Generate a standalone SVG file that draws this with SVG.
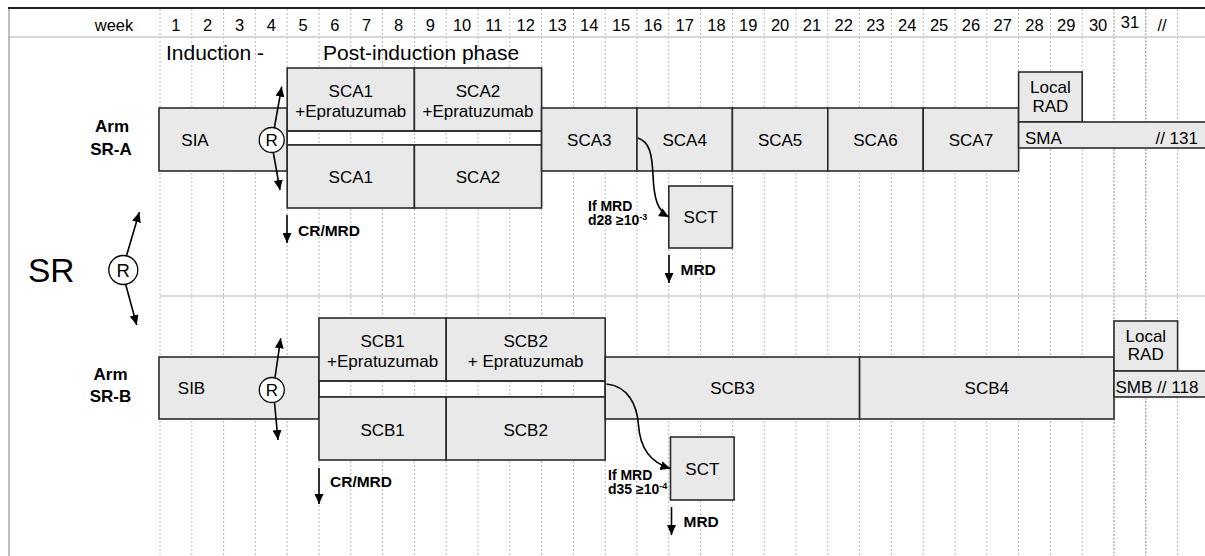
<svg xmlns="http://www.w3.org/2000/svg" width="1205" height="556" viewBox="0 0 1205 556">
<defs>
<style>
text{font-family:"Liberation Sans",Arial,sans-serif;fill:#000}
.hd{font-size:16.5px;text-anchor:middle}
.ph{font-size:21px}
.bx{font-size:17px;text-anchor:middle}
.lb{font-size:17px}
.arm{font-size:17px;font-weight:bold;text-anchor:middle}
.nt{font-size:15.5px;font-weight:bold}
.sm{font-size:14px;font-weight:bold}
.sup{font-size:9px}
.box{fill:#e9e9e9;stroke:#2b2b2b;stroke-width:1.6}
.gap{fill:#fff;fill-opacity:0;stroke:#2b2b2b;stroke-width:1.6}
.grid{stroke:#b8b8b8;stroke-width:1;stroke-dasharray:2 2;fill:none}
.grid2{stroke:#8a8a8a;stroke-width:1;stroke-dasharray:2 1.5;fill:none}
.circ{fill:#fff;stroke:#000;stroke-width:1.3}
.arr{stroke:#000;stroke-width:1.6;fill:none;marker-end:url(#ah)}
</style>
<marker id="ah" viewBox="0 0 10 9" refX="10" refY="4.5" markerWidth="10" markerHeight="9" markerUnits="userSpaceOnUse" orient="auto">
<path d="M0,0 L10,4.5 L0,9 z" fill="#000"/>
</marker>
</defs>
<rect width="1205" height="556" fill="#fff"/>

<g id="frame">
<path class="grid" d="M160,9V556M191.8,9V556M223.6,9V556M255.4,9V556M287.2,9V556M319,9V556M350.8,9V556M382.6,9V556M414.4,9V556M446.2,9V556M478,9V556M509.8,9V556M541.6,9V556M573.4,9V556M605.2,9V556M637,9V556M668.8,9V556M700.6,9V556M732.4,9V556M764.2,9V556M796,9V556M827.8,9V556M859.6,9V556M891.4,9V556M923.2,9V556M955,9V556M986.8,9V556M1018.6,9V556M1050.4,9V556M1082.2,9V556M1177.6,9V556"/>
<path class="grid2" d="M1114,9V556M1145.8,9V556"/>
<line x1="8" y1="37" x2="1205" y2="37" stroke="#c8c8c8" stroke-width="1.6"/>
<line x1="160" y1="296" x2="1205" y2="296" stroke="#d0d0d0" stroke-width="1.6"/>
<line x1="9" y1="8" x2="9" y2="556" stroke="#a8a8a8" stroke-width="1.5"/>
<line x1="8" y1="8" x2="1205" y2="8" stroke="#222" stroke-width="2"/>
</g>

<g id="header">
<text class="hd" x="114" y="30.5">week</text>
<text class="hd" x="175.9" y="30.5">1</text>
<text class="hd" x="207.7" y="30.5">2</text>
<text class="hd" x="239.5" y="30.5">3</text>
<text class="hd" x="271.3" y="30.5">4</text>
<text class="hd" x="303.1" y="30.5">5</text>
<text class="hd" x="334.9" y="30.5">6</text>
<text class="hd" x="366.7" y="30.5">7</text>
<text class="hd" x="398.5" y="30.5">8</text>
<text class="hd" x="430.3" y="30.5">9</text>
<text class="hd" x="462.1" y="30.5">10</text>
<text class="hd" x="493.9" y="30.5">11</text>
<text class="hd" x="525.7" y="30.5">12</text>
<text class="hd" x="557.5" y="30.5">13</text>
<text class="hd" x="589.3" y="30.5">14</text>
<text class="hd" x="621.1" y="30.5">15</text>
<text class="hd" x="652.9" y="30.5">16</text>
<text class="hd" x="684.7" y="30.5">17</text>
<text class="hd" x="716.5" y="30.5">18</text>
<text class="hd" x="748.3" y="30.5">19</text>
<text class="hd" x="780.1" y="30.5">20</text>
<text class="hd" x="811.9" y="30.5">21</text>
<text class="hd" x="843.7" y="30.5">22</text>
<text class="hd" x="875.5" y="30.5">23</text>
<text class="hd" x="907.3" y="30.5">24</text>
<text class="hd" x="939.1" y="30.5">25</text>
<text class="hd" x="970.9" y="30.5">26</text>
<text class="hd" x="1002.7" y="30.5">27</text>
<text class="hd" x="1034.5" y="30.5">28</text>
<text class="hd" x="1066.3" y="30.5">29</text>
<text class="hd" x="1098.1" y="30.5">30</text>
<text class="hd" x="1129.9" y="28">31</text>
<text class="hd" x="1162" y="30.5">//</text>
<text class="ph" x="166" y="60">Induction -</text>
<text class="ph" x="323" y="60">Post-induction phase</text>
</g>

<g id="sr">
<text x="28" y="281.5" style="font-size:33.5px">SR</text>
<circle class="circ" cx="123.3" cy="270" r="14.5"/>
<text x="123.3" y="276.6" style="font-size:18.5px;text-anchor:middle">R</text>
</g>

<g id="arm-a-label"><text class="arm" x="112" y="132">Arm</text><text class="arm" x="111" y="155">SR-A</text></g>
<g id="sia"><rect class="box" x="159" y="108" width="128.2" height="63"/><text class="bx" x="195" y="146">SIA</text></g>
<g id="sca1e"><rect class="box" x="287.2" y="68" width="127.2" height="63"/><text class="bx" x="350.8" y="97">SCA1</text><text class="bx" x="350.8" y="117">+Epratuzumab</text></g>
<g id="sca2e"><rect class="box" x="414.4" y="68" width="127.2" height="63"/><text class="bx" x="478" y="97">SCA2</text><text class="bx" x="478" y="117">+Epratuzumab</text></g>
<g id="gap-a"><rect class="gap" x="287.2" y="131" width="254.4" height="14"/></g>
<g id="sca1"><rect class="box" x="287.2" y="145" width="127.2" height="63"/><text class="bx" x="350.8" y="182.5">SCA1</text></g>
<g id="sca2"><rect class="box" x="414.4" y="145" width="127.2" height="63"/><text class="bx" x="478" y="182.5">SCA2</text></g>
<g id="sca3"><rect class="box" x="541.6" y="108" width="95.4" height="63"/><text class="bx" x="589.3" y="146">SCA3</text></g>
<g id="sca4"><rect class="box" x="637" y="108" width="95.4" height="63"/><text class="bx" x="684.7" y="146">SCA4</text></g>
<g id="sca5"><rect class="box" x="732.4" y="108" width="95.4" height="63"/><text class="bx" x="780.1" y="146">SCA5</text></g>
<g id="sca6"><rect class="box" x="827.8" y="108" width="95.4" height="63"/><text class="bx" x="875.5" y="146">SCA6</text></g>
<g id="sca7"><rect class="box" x="923.2" y="108" width="95.4" height="63"/><text class="bx" x="970.9" y="146">SCA7</text></g>
<g id="rad-a"><rect class="box" x="1018.6" y="72" width="63.6" height="50"/><text class="bx" x="1050.4" y="93.3">Local</text><text class="bx" x="1050.4" y="111.7">RAD</text></g>
<g id="sma"><rect class="box" x="1018.6" y="122" width="192" height="26"/><text class="lb" x="1025" y="144">SMA</text><text class="lb" x="1198" y="144" style="text-anchor:end">// 131</text></g>
<g id="sct-a"><rect class="box" x="668.8" y="186" width="63.6" height="62"/><text class="bx" x="700.6" y="223">SCT</text></g>
<g id="r-a"><circle class="circ" cx="271.7" cy="140" r="12.5"/><text x="271.7" y="146" style="font-size:17px;text-anchor:middle">R</text></g>
<g id="notes-a">
<text class="nt" x="298" y="235.5">CR/MRD</text>
<text class="sm" x="588" y="211">If MRD</text>
<text class="sm" x="588" y="225">d28 ≥10<tspan class="sup" dy="-5">-3</tspan></text>
<text class="nt" x="680.5" y="275">MRD</text>
</g>

<g id="arm-b-label"><text class="arm" x="110.5" y="380">Arm</text><text class="arm" x="110.5" y="402">SR-B</text></g>
<g id="sib"><rect class="box" x="159" y="357" width="160" height="62"/><text class="bx" x="191.5" y="393.5">SIB</text></g>
<g id="scb1e"><rect class="box" x="319" y="318" width="127.2" height="63"/><text class="bx" x="382.6" y="347">SCB1</text><text class="bx" x="382.6" y="367">+Epratuzumab</text></g>
<g id="scb2e"><rect class="box" x="446.2" y="318" width="159" height="63"/><text class="bx" x="525.7" y="347">SCB2</text><text class="bx" x="525.7" y="367">+ Epratuzumab</text></g>
<g id="gap-b"><rect class="gap" x="319" y="381" width="286.2" height="16"/></g>
<g id="scb1"><rect class="box" x="319" y="397" width="127.2" height="63"/><text class="bx" x="382.6" y="436">SCB1</text></g>
<g id="scb2"><rect class="box" x="446.2" y="397" width="159" height="63"/><text class="bx" x="525.7" y="436">SCB2</text></g>
<g id="scb3"><rect class="box" x="605.2" y="357" width="254.4" height="62"/><text class="bx" x="732.4" y="394">SCB3</text></g>
<g id="scb4"><rect class="box" x="859.6" y="357" width="254.4" height="62"/><text class="bx" x="986.8" y="394">SCB4</text></g>
<g id="rad-b"><rect class="box" x="1114" y="321" width="63.6" height="50"/><text class="bx" x="1145.8" y="341.7">Local</text><text class="bx" x="1145.8" y="359.5">RAD</text></g>
<g id="smb"><rect class="box" x="1114" y="371" width="96" height="26"/><text class="lb" x="1115.5" y="392.5">SMB // 118</text></g>
<g id="sct-b"><rect class="box" x="670.5" y="437" width="63.6" height="63"/><text class="bx" x="702.3" y="474.5">SCT</text></g>
<g id="r-b"><circle class="circ" cx="271.8" cy="390" r="12.5"/><text x="271.8" y="396" style="font-size:17px;text-anchor:middle">R</text></g>
<g id="notes-b">
<text class="nt" x="330" y="487">CR/MRD</text>
<text class="sm" x="608" y="480">If MRD</text>
<text class="sm" x="608" y="494">d35 ≥10<tspan class="sup" dy="-5">-4</tspan></text>
<text class="nt" x="683.5" y="527">MRD</text>
</g>

<g id="connectors">
<line class="arr" x1="126.7" y1="255" x2="139.3" y2="212.3"/>
<line class="arr" x1="125.7" y1="284.5" x2="136.7" y2="325"/>
<line class="arr" x1="274.3" y1="128" x2="281.7" y2="86.7"/>
<line class="arr" x1="273.3" y1="152.5" x2="280" y2="190"/>
<line class="arr" x1="287" y1="215" x2="287" y2="243"/>
<path class="arr" d="M638,138 C650,142 652,155 653,175 C654,200 658,211 669,217"/>
<line class="arr" x1="669" y1="255" x2="669" y2="283"/>
<line class="arr" x1="275" y1="377.5" x2="280.7" y2="338.3"/>
<line class="arr" x1="274.5" y1="402.5" x2="278" y2="440"/>
<line class="arr" x1="319" y1="468" x2="319" y2="504"/>
<path class="arr" d="M606.5,384 C628,386 637,405 638.5,425 C640,450 652,463 670.5,468.5"/>
<line class="arr" x1="671.5" y1="507" x2="671.5" y2="535"/>
</g>
</svg>
